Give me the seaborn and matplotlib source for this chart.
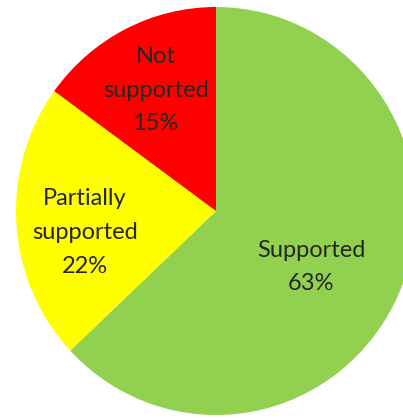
import numpy as np
import matplotlib
matplotlib.use("Agg")
import matplotlib.pyplot as plt
import seaborn as sns

categories = ["Supported", "Partially\nsupported", "Not\nsupported"]
values = [63, 22, 15]
colors = ["#92D050", "#FFFF00", "#FF0000"]
label_radius = [0.55, 0.665, 0.665]
label_shift_deg = [-6.5, 5.5, 0.0]

sns.set_theme(style="white")
plt.rcParams['font.family'] = ['Lato', 'DejaVu Sans']

W, H = 403, 418
fig = plt.figure(figsize=(W / 100, H / 100), dpi=100)
fig.patch.set_facecolor("white")
cx, cy, Rx, Ry = 216, 418 - 211, 200, 204
ax = fig.add_axes([(cx - Rx) / W, (cy - Ry) / H, 2 * Rx / W, 2 * Ry / H])

wedges, _ = ax.pie(values, colors=colors, startangle=90, counterclock=False,
                   radius=1.0, wedgeprops=dict(linewidth=0))
total = sum(values)
for w, cat, v, r, s in zip(wedges, categories, values, label_radius, label_shift_deg):
    ang = np.deg2rad((w.theta1 + w.theta2) / 2 + s)
    ax.text(r * np.cos(ang), r * np.sin(ang), f"{cat}\n{round(100 * v / total)}%",
            ha="center", va="center", fontsize=17, color="#262626",
            linespacing=1.75)
ax.set_xlim(-1, 1)
ax.set_ylim(-1, 1)
ax.set_aspect("auto")
ax.axis("off")
fig.savefig("out.png", dpi=100)
